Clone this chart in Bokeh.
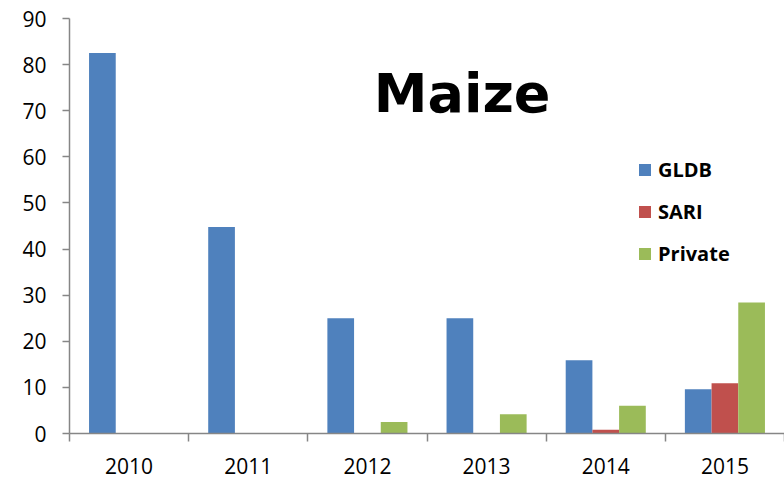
from bokeh.plotting import figure
from bokeh.models import (FactorRange, Range1d, LinearAxis, FixedTicker, Label,
                          ColumnDataSource)
from bokeh.transform import dodge
from bokeh.embed import file_html
from bokeh.resources import INLINE

years = ["2010", "2011", "2012", "2013", "2014", "2015"]
gldb = [82.5, 44.8, 25.0, 25.0, 15.9, 9.6]
sari = [0.0, 0.0, 0.0, 0.0, 0.8, 10.9]
private = [0.0, 0.0, 2.5, 4.2, 6.0, 28.4]
y_ticks = [0, 10, 20, 30, 40, 50, 60, 70, 80, 90]
series_names = ["GLDB", "SARI", "Private"]
colors = ["#4F81BD", "#C0504D", "#9BBB59"]

src = ColumnDataSource(dict(year=years, GLDB=gldb, SARI=sari, Private=private))

p = figure(x_range=FactorRange(factors=years), y_range=Range1d(0, 90),
           width=784, height=483, output_backend="svg", toolbar_location=None,
           x_axis_location=None, y_axis_location="left")
p.min_border_left = 69
p.min_border_right = 0
p.min_border_top = 18
p.min_border_bottom = 50
p.outline_line_color = None
p.xgrid.visible = False
p.ygrid.visible = False

bw = 0.224
offsets = [-bw, 0.0, bw]
for name, col, off in zip(series_names, colors, offsets):
    p.vbar(x=dodge("year", off, range=p.x_range), top=name, width=bw,
           source=src, fill_color=col, line_color=None, legend_label=name)

axis_gray = "#868686"
tick_font = "Open Sans"

yax = p.yaxis[0]
yax.ticker = FixedTicker(ticks=y_ticks)
yax.axis_line_color = axis_gray
yax.axis_line_width = 1.5
yax.major_tick_line_color = axis_gray
yax.major_tick_line_width = 1.5
yax.major_tick_out = 7
yax.major_tick_in = 0
yax.minor_tick_line_color = None
yax.major_label_text_font = tick_font
yax.major_label_text_font_size = "21px"
yax.major_label_text_color = "#000000"
yax.major_label_standoff = 16

# category centres carry the year labels; category boundaries carry the ticks
centres = [i + 0.5 for i in range(len(years))]
bounds = [float(i) for i in range(len(years) + 1)]
xax = LinearAxis(ticker=FixedTicker(ticks=centres, minor_ticks=bounds),
                 major_label_overrides={c: y for c, y in zip(centres, years)},
                 major_tick_out=0, major_tick_in=0,
                 minor_tick_out=8, minor_tick_in=0,
                 major_label_standoff=16,
                 major_label_text_font=tick_font,
                 major_label_text_font_size="21px",
                 major_label_text_color="#000000",
                 axis_line_color=axis_gray, axis_line_width=1.5,
                 minor_tick_line_color=axis_gray, minor_tick_line_width=1.5)
p.add_layout(xax, "below")

title = Label(x=2.553, y=73.8, text="Maize", text_font="DejaVu Sans",
              text_font_style="bold", text_font_size="54px",
              text_baseline="alphabetic", text_color="#000000")
p.add_layout(title)

lg = p.legend[0]
lg.location = (568, 166)
lg.border_line_color = None
lg.background_fill_alpha = 0
lg.padding = 0
lg.margin = 0
lg.glyph_width = 15
lg.glyph_height = 15
lg.label_height = 15
lg.label_standoff = 6
lg.spacing = 15
lg.label_text_font = tick_font
lg.label_text_font_style = "bold"
lg.label_text_font_size = "20px"
lg.label_text_color = "#000000"

open("out.html", "w").write(file_html(p, INLINE))
